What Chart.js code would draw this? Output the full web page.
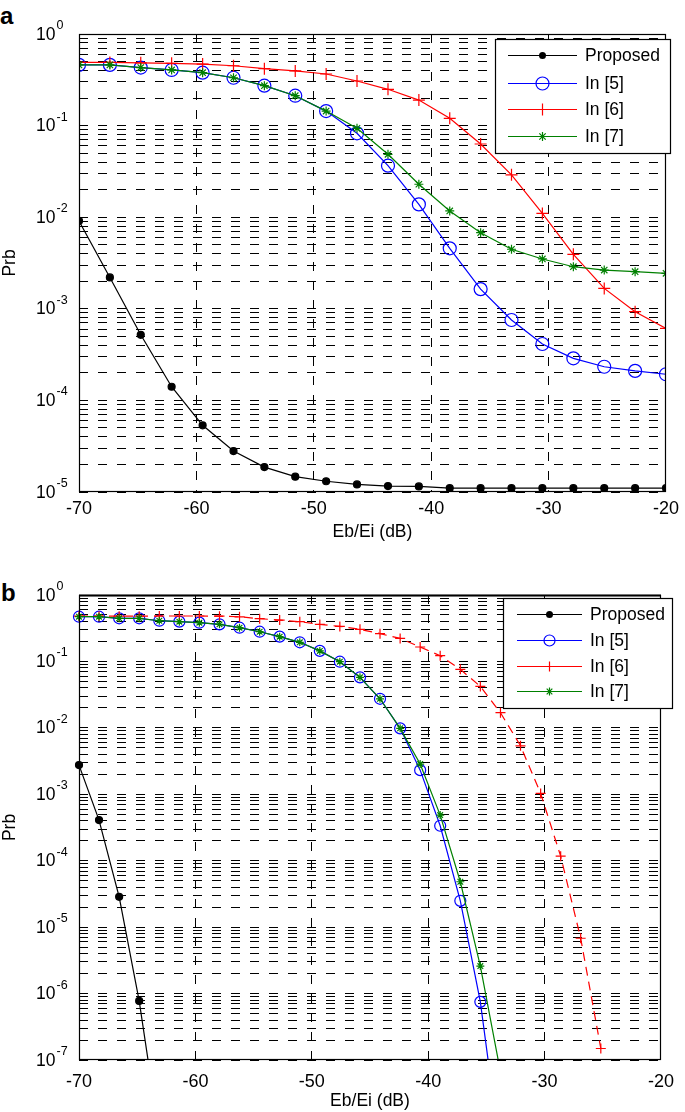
<!DOCTYPE html>
<html>
<head>
<meta charset="utf-8">
<script src="https://cdn.jsdelivr.net/npm/chart.js@4.4.1/dist/chart.umd.min.js"></script>
<style>
  html, body { margin: 0; padding: 0; background: #fff; }
  body { width: 685px; height: 1112px; position: relative; overflow: hidden; }
  canvas { position: absolute; left: 0; }
  #chartA { top: 0; }
  #chartB { top: 545px; }
  .panel { position: absolute; font: bold 24px/24px "Liberation Sans", Arial, sans-serif; color: #000; }
</style>
</head>
<body>
<div class="panel" style="left:0px;top:4px">a</div>
<div class="panel" style="left:1px;top:581px">b</div>
<canvas id="chartA" width="685" height="545"></canvas>
<canvas id="chartB" width="685" height="567"></canvas>
<script>
// ---- data ----
var seriesNames = ["Proposed", "In [5]", "In [6]", "In [7]"];
var xTickStep = 10;

// panel a : 20 points from -70 to -20 dB
var xA = [-70, -67.37, -64.74, -62.11, -59.47, -56.84, -54.21, -51.58, -48.95, -46.32,
          -43.68, -41.05, -38.42, -35.79, -33.16, -30.53, -27.89, -25.26, -22.63, -20];
var proposedA = [9.1e-3, 2.2e-3, 5.2e-4, 1.41e-4, 5.35e-5, 2.8e-5, 1.87e-5, 1.47e-5, 1.31e-5, 1.21e-5,
                 1.16e-5, 1.15e-5, 1.1e-5, 1.1e-5, 1.1e-5, 1.1e-5, 1.1e-5, 1.1e-5, 1.1e-5, 1.1e-5];
var in5A = [0.46, 0.46, 0.43, 0.405, 0.378, 0.333, 0.273, 0.212, 0.144, 0.0824,
            0.0365, 0.0138, 4.57e-3, 1.64e-3, 7.55e-4, 4.13e-4, 2.88e-4, 2.33e-4, 2.1e-4, 1.93e-4];
var in6A = [0.49, 0.49, 0.485, 0.478, 0.47, 0.45, 0.418, 0.395, 0.366, 0.307,
            0.249, 0.19, 0.12, 0.063, 0.029, 0.011, 3.93e-3, 1.67e-3, 9.3e-4, 6.1e-4];
var in7A = [0.46, 0.46, 0.43, 0.405, 0.378, 0.333, 0.273, 0.212, 0.144, 0.0934,
            0.0486, 0.0229, 0.0117, 6.78e-3, 4.47e-3, 3.5e-3, 2.88e-3, 2.65e-3, 2.54e-3, 2.44e-3];
var decadesA = [0, -1, -2, -3, -4, -5];

// panel b : 30 points from -70 to -20 dB
var xB = [-70, -68.28, -66.55, -64.83, -63.10, -61.38, -59.66, -57.93, -56.21, -54.48,
          -52.76, -51.03, -49.31, -47.59, -45.86, -44.14, -42.41, -40.69, -38.97, -37.24,
          -35.52, -33.79, -32.07, -30.34, -28.62, -26.90, -25.17, -23.45, -21.72, -20];
var proposedB = [2.75e-3, 4.09e-4, 2.86e-5, 7.76e-7, 7.4e-9];
var in5B = [0.471, 0.471, 0.446, 0.446, 0.41, 0.397, 0.383, 0.362, 0.322, 0.28,
            0.236, 0.194, 0.144, 0.099, 0.0576, 0.0274, 9.83e-3, 2.31e-3, 3.36e-4, 2.49e-5,
            7.5e-7, 4e-9];
var in6B = [0.48, 0.48, 0.48, 0.48, 0.483, 0.483, 0.483, 0.48, 0.47, 0.44,
            0.42, 0.396, 0.361, 0.337, 0.304, 0.262, 0.222, 0.165, 0.122, 0.076,
            0.042, 0.0169, 5.37e-3, 1.03e-3, 1.17e-4, 6.8e-6, 1.49e-7];
var in7B = [0.471, 0.471, 0.446, 0.446, 0.41, 0.397, 0.383, 0.362, 0.322, 0.28,
            0.236, 0.194, 0.144, 0.099, 0.0576, 0.0274, 9.83e-3, 2.85e-3, 4.86e-4, 4.82e-5,
            2.59e-6, 6.6e-8];
var decadesB = [0, -1, -2, -3, -4, -5, -6, -7];
var minorSteps = [2, 3, 4, 5, 6, 7, 8, 9];

var FONT = '"Liberation Sans", Arial, sans-serif';
Chart.defaults.font.family = FONT;
Chart.defaults.color = "#000";

var colors = ["#000000", "#0000ff", "#ff0000", "#008000"];
var markers = ["dot", "circle", "cross", "star"];

function pts(xs, ys) {
  return ys.map(function (y, i) { return { x: xs[i], y: y }; });
}

function gridValues(decades) {
  var out = [];
  decades.forEach(function (d, i) {
    out.push(Math.pow(10, d));
    if (i > 0) minorSteps.forEach(function (m) { out.push(m * Math.pow(10, d)); });
  });
  return out;
}

function drawMarker(ctx, kind, color, r, x, y) {
  ctx.save();
  ctx.strokeStyle = color;
  ctx.fillStyle = color;
  ctx.lineWidth = 1.2;
  ctx.beginPath();
  if (kind === "dot") {
    ctx.arc(x, y, r, 0, Math.PI * 2); ctx.fill();
  } else if (kind === "circle") {
    ctx.arc(x, y, r, 0, Math.PI * 2); ctx.stroke();
  } else {
    ctx.moveTo(x - r, y); ctx.lineTo(x + r, y);
    ctx.moveTo(x, y - r); ctx.lineTo(x, y + r);
    if (kind === "star") {
      var d = r * Math.SQRT1_2;
      ctx.moveTo(x - d, y - d); ctx.lineTo(x + d, y + d);
      ctx.moveTo(x - d, y + d); ctx.lineTo(x + d, y - d);
    }
    ctx.stroke();
  }
  ctx.restore();
}

// box, superscript tick labels and matlab-like legend
var framePlugin = {
  id: "frame",
  afterDraw: function (chart, args, opts) {
    var ctx = chart.ctx, a = chart.chartArea, ys = chart.scales.y;
    ctx.save();
    ctx.strokeStyle = "#000";
    ctx.lineWidth = 1.2;
    ctx.strokeRect(a.left + 0.5, a.top + 0.5, a.right - a.left - 1, a.bottom - a.top - 1);
    if (opts.topWidth) {
      ctx.lineWidth = opts.topWidth;
      ctx.beginPath(); ctx.moveTo(a.left, a.top + 0.5); ctx.lineTo(a.right, a.top + 0.5); ctx.stroke();
    }
    ctx.fillStyle = "#000";
    ctx.textBaseline = "alphabetic";
    opts.decades.forEach(function (d) {
      var y = ys.getPixelForValue(Math.pow(10, d));
      ctx.font = "17.5px " + FONT;
      ctx.textAlign = "right";
      ctx.fillText("10", 55.5, y + 5.5);
      ctx.font = "12.5px " + FONT;
      ctx.textAlign = "left";
      ctx.fillText(String(d), 56.5, y - 5);
    });
    var lg = opts.legend;
    ctx.fillStyle = "#fff";
    ctx.fillRect(lg.x, lg.y, lg.w, lg.h);
    ctx.strokeStyle = "#000";
    ctx.lineWidth = 1.2;
    ctx.strokeRect(lg.x + 0.5, lg.y + 0.5, lg.w, lg.h);
    seriesNames.forEach(function (name, k) {
      var y = lg.rows[k];
      ctx.strokeStyle = colors[k];
      ctx.lineWidth = 1.2;
      ctx.beginPath(); ctx.moveTo(lg.x1, y + 0.5); ctx.lineTo(lg.x2, y + 0.5); ctx.stroke();
      drawMarker(ctx, markers[k], colors[k], opts.radii[k], (lg.x1 + lg.x2) / 2, y + 0.5);
      ctx.fillStyle = "#000";
      ctx.font = "17.5px " + FONT;
      ctx.textAlign = "left";
      ctx.textBaseline = "middle";
      ctx.fillText(name, lg.tx, y + 1);
    });
    ctx.restore();
  }
};

function makeDatasets(xs, list, radii, dashed, clip) {
  return list.map(function (ys, k) {
    var ds = {
      label: seriesNames[k],
      data: pts(xs, ys),
      borderColor: colors[k],
      borderWidth: 1.2,
      borderDash: k === dashed ? [9, 6] : [],
      pointStyle: markers[k] === "dot" ? "circle" : markers[k],
      pointRadius: radii[k],
      pointBorderColor: colors[k],
      pointBackgroundColor: markers[k] === "dot" ? colors[k] : "rgba(0,0,0,0)",
      pointBorderWidth: 1.2,
      tension: 0,
      fill: false,
      order: 3 - k
    };
    if (clip) ds.clip = clip;
    return ds;
  });
}

function makeChart(id, xs, list, decades, cfg) {
  var ticksY = gridValues(decades);
  return new Chart(document.getElementById(id), {
    type: "line",
    data: { datasets: makeDatasets(xs, list, cfg.radii, cfg.dashed, cfg.clip) },
    options: {
      responsive: false,
      animation: false,
      devicePixelRatio: 1,
      layout: { padding: cfg.padding },
      plugins: {
        legend: { display: false },
        tooltip: { enabled: false },
        frame: { decades: decades, legend: cfg.legend, radii: cfg.radii, topWidth: cfg.topWidth }
      },
      scales: {
        x: {
          type: "linear",
          min: -70,
          max: -20,
          ticks: {
            stepSize: xTickStep,
            maxRotation: 0,
            padding: cfg.tickPad,
            font: { size: 18 },
            callback: function (v) { return String(v); }
          },
          grid: { color: "#000", lineWidth: 1, drawTicks: false },
          border: { display: false, dash: [9, 10] },
          title: { display: true, text: "Eb/Ei (dB)", font: { size: 17.5 }, padding: 0 },
          afterFit: function (s) { s.height = cfg.xHeight; }
        },
        y: {
          type: "logarithmic",
          min: Math.pow(10, decades[decades.length - 1]),
          max: 1,
          ticks: { display: false },
          afterBuildTicks: function (s) {
            s.ticks = ticksY.map(function (v) { return { value: v }; });
          },
          grid: { color: "#000", lineWidth: 1, drawTicks: false },
          border: { display: false, dash: [9, 10] },
          title: { display: true, text: "Prb", font: { size: 17.5 }, padding: 0 },
          afterFit: function (s) { s.width = 79; }
        }
      }
    },
    plugins: [framePlugin]
  });
}

makeChart("chartA", xA, [proposedA, in5A, in6A, in7A], decadesA, {
  radii: [3.5, 6.5, 6, 4.5],
  dashed: -1,
  padding: { top: 34, right: 12, bottom: 2, left: 0 },
  xHeight: 51,
  tickPad: 6,
  legend: { x: 495, y: 39, w: 175, h: 114, rows: [55, 83, 109, 136], x1: 508, x2: 577, tx: 585 }
});

makeChart("chartB", xB, [proposedB, in5B, in6B, in7B], decadesB, {
  radii: [3.5, 5.5, 5, 4],
  dashed: 2,
  clip: { left: 10, top: 10, right: 10, bottom: 0 },
  padding: { top: 50, right: 12, bottom: 0, left: 0 },
  xHeight: 52,
  tickPad: 11,
  topWidth: 2,
  legend: { x: 503, y: 53, w: 169, h: 110, rows: [69, 95, 121, 146], x1: 517, x2: 582, tx: 590 }
});
</script>
</body>
</html>
